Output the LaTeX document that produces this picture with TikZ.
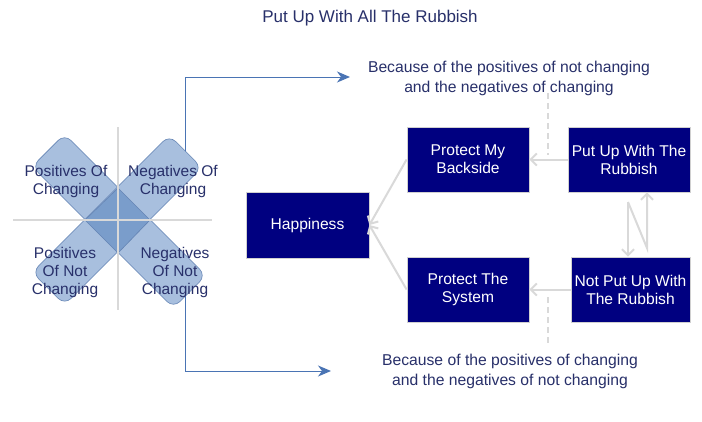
\documentclass[tikz,border=0pt]{standalone}
\usepackage{fontspec}
\setmainfont{Liberation Sans}
\usetikzlibrary{arrows.meta}
\definecolor{navybox}{HTML}{000080}
\definecolor{boxedge}{HTML}{D0D0D0}
\definecolor{greyline}{HTML}{D9D9D9}
\definecolor{bandfill}{HTML}{A8BFDE}
\definecolor{bandedge}{HTML}{6484B4}
\definecolor{overlap}{HTML}{7A9DCB}
\definecolor{arrowblue}{HTML}{4A74B4}
\definecolor{txt}{HTML}{28306A}
\tikzset{
  darkbox/.style={draw=boxedge, line width=0.8pt, fill=navybox, text=white,
    minimum width=122pt, minimum height=65pt, align=center, inner sep=0pt,
    font=\fontsize{15.6}{18}\selectfont},
  crosslabel/.style={text=txt, align=center, inner sep=0pt,
    font=\fontsize{15.5}{18}\selectfont},
  notelabel/.style={text=txt, align=center, inner sep=0pt,
    font=\fontsize{15.7}{20}\selectfont},
  greyarrow/.style={draw=greyline, line width=2pt,
    -{Straight Barb[length=6pt,width=12pt]}},
  greydash/.style={draw=greyline, line width=2pt, dash pattern=on 6pt off 4pt},
  bluearrow/.style={draw=arrowblue, line width=1pt,
    -{Stealth[length=13pt,width=11pt,inset=4pt]}},
  band/.style={fill=bandfill, draw=bandedge, line width=0.6pt, rounded corners=9pt},
  crossline/.style={draw=greyline, line width=2pt}
}
\begin{document}
\begin{tikzpicture}[x=1pt,y=-1pt]
\useasboundingbox (0,0) rectangle (702,421);
\fill[white] (0,0) rectangle (702,421);

% title
\node[text=txt, font=\fontsize{17}{19}\selectfont] (title) at (370,18) {Put Up With All The Rubbish};

% blue connectors (under the bands)
\coordinate (bu) at (185,175);
\coordinate (bl) at (185,270);
\coordinate (a1) at (350,77);
\coordinate (a2) at (331,371);
\draw[bluearrow] (bu) |- (a1);
\draw[bluearrow] (bl) |- (a2);

% crossed bands
\begin{scope}[shift={(119,221)}, rotate=-45]
  \draw[band] (-100,-23) rectangle (100,23);
\end{scope}
\begin{scope}[shift={(117,220)}, rotate=45]
  \draw[band] (-97,-23) rectangle (97,23);
\end{scope}
\draw[fill=overlap, draw=bandedge, line width=0.6pt]
  (85,220) -- (118,188) -- (150,220) -- (118,253) -- cycle;

% grey cross
\coordinate (vt) at (118,127);
\coordinate (vb) at (118,310);
\coordinate (hl) at (13,220);
\coordinate (hr) at (212,220);
\draw[crossline] (vt) -- (vb);
\draw[crossline] (hl) -- (hr);

% cross labels
\node[crosslabel] (pc) at (66,181) {Positives Of\\Changing};
\node[crosslabel] (nc) at (173,181) {Negatives Of\\Changing};
\node[crosslabel] (pnc) at (65,272) {Positives\\Of Not\\Changing};
\node[crosslabel] (nnc) at (175,272) {Negatives\\Of Not\\Changing};

% boxes
\node[darkbox, minimum width=123pt, minimum height=66pt] (happy) at (307.5,225) {Happiness};
\node[darkbox] (pmb) at (468,159.5) {Protect My\\Backside};
\node[darkbox] (put) at (629,159.5) {Put Up With The\\Rubbish};
\node[darkbox] (pts) at (468,289.5) {Protect The\\System};
\node[darkbox, minimum width=119pt] (notput) at (630.5,289.5) {Not Put Up With\\The Rubbish};

% notes
\node[notelabel] (lab1) at (509,78) {Because of the positives of not changing\\and the negatives of changing};
\node[notelabel] (lab2) at (510,371) {Because of the positives of changing\\and the negatives of not changing};

% grey connectors
\draw[greyarrow] (pmb.west) -- (happy.east);
\draw[greyarrow] (pts.west) -- (happy.east);
\draw[greyarrow] (put.west) -- (pmb.east);
\draw[greyarrow] (notput.west) -- (pts.east);
\coordinate (n1) at (628,202);
\coordinate (n2) at (647,248);
\draw[greyarrow] (n1) -- (n1 |- notput.north);
\draw[greyarrow] (n1) -- (n2) -- (n2 |- put.south);

% dashed links
\coordinate (d1t) at (548,93);
\coordinate (d1b) at (548,155);
\coordinate (d2t) at (548,297);
\coordinate (d2b) at (548,346);
\draw[greydash] (d1t) -- (d1b);
\draw[greydash] (d2t) -- (d2b);
\end{tikzpicture}
\end{document}
